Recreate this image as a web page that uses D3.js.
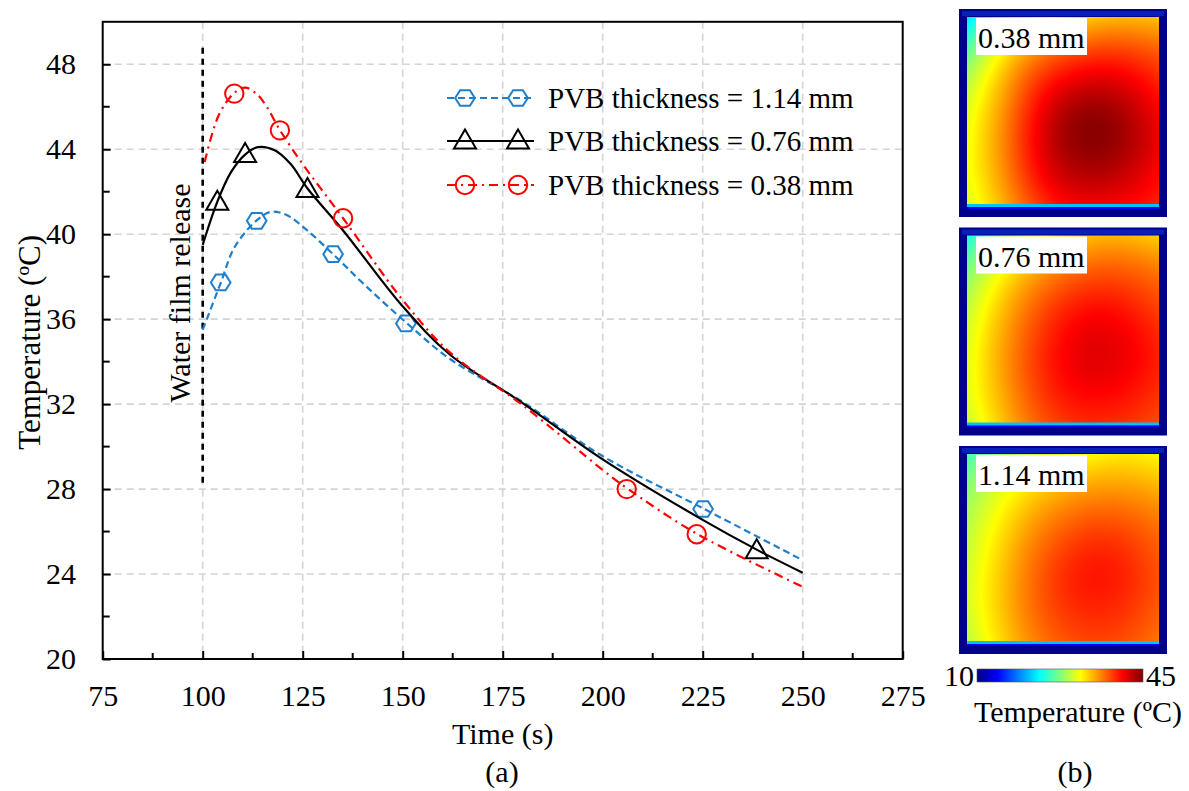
<!DOCTYPE html>
<html><head><meta charset="utf-8">
<script src="https://cdn.jsdelivr.net/npm/d3@7"></script>
<style>body{margin:0;background:#fff}svg{display:block}text{font-family:"Liberation Serif","Times New Roman",serif;fill:#000}</style>
</head><body>
<svg id="c" width="1189" height="791"></svg>
<script>
// ---------- data ----------
const xTicks = [75,100,125,150,175,200,225,250,275];
const yTicks = [20,24,28,32,36,40,44,48];
const seriesNames = ["PVB thickness = 1.14 mm","PVB thickness = 0.76 mm","PVB thickness = 0.38 mm"];
// curve samples [time, temperature]
const curve114 = [[100,35.5],[104.5,37.7],[108,39.4],[113.5,40.65],[117,41.05],[121,40.9],[126,40.2],[132.6,39.06],[140,37.7],[150.8,35.85],[162,34.1],[180,32.1],[200,29.55],[225,27.1],[250,24.65]];
const curve076 = [[100,39.5],[103.6,41.5],[107,42.9],[110.6,43.75],[113.8,44.1],[118,43.95],[122,43.3],[126.2,42.15],[135,40.2],[150,36.6],[162,34.3],[180,32.05],[200,29.4],[225,26.55],[238.5,25.15],[250,24.06]];
const curve038 = [[100.5,43.4],[104,45.6],[107.9,46.65],[110.6,46.9],[113.5,46.6],[116,46.0],[119.3,44.9],[125,43.3],[135.1,40.75],[150,36.9],[162,34.4],[180,31.95],[200,28.9],[206,28.05],[223.5,25.9],[250,23.4]];
// marker positions [time, temperature]
const marks114 = [[104.5,37.73],[113.5,40.63],[132.6,39.06],[150.8,35.8],[225.1,27.06]];
const marks076 = [[103.65,41.5],[110.6,43.75],[126.2,42.1],[238.5,25.1]];
const marks038 = [[107.9,46.62],[119.3,44.89],[135.1,40.75],[206,28.0],[223.5,25.87]];
const releaseTime = 100, releaseRange = [28.3, 48.9];
// heat maps (b): temperature (ºC) read on a coarse 7x7 grid (edges included), rows top->bottom
const panelLabels = ["0.38 mm","0.76 mm","1.14 mm"];
const heat038 = [
  [22,27,30.5,32.5,34,34.5,34],
  [26.5,32,35.5,37.5,38.5,38.5,37.5],
  [29.5,34,38.5,41,42,41.5,39.5],
  [31,35,40,43.8,45,43.5,41],
  [31.5,35.5,40.5,44.2,45.2,44,41.5],
  [31.5,35,39.8,42.8,43.5,42.5,40.5],
  [30.5,34,38,40.5,41,40.5,39.5]];
const heat076 = [
  [24,28.5,31,33,34.5,34.5,33.5],
  [27.5,31.5,34.5,36.5,37.5,37.5,36.5],
  [29.5,33.5,36.8,39,40,39.5,38],
  [30.5,34.5,38,40.5,41.8,41,39.3],
  [31,35,38.5,41,42,41.3,39.8],
  [31,34.5,38,40.3,40.8,40.3,39],
  [30,33.5,37,38.8,39.3,39,38]];
const heat114 = [
  [25.5,28.5,30,31.2,32.2,32.8,32],
  [28,30.8,33,34.5,35.2,35.3,34.5],
  [29.2,32.2,35,36.8,37.8,37.5,36.5],
  [30,33.2,36.5,38.6,39.8,39.2,37.5],
  [30.5,33.7,37,39.5,40.4,39.7,38],
  [30.5,33.7,37,38.9,39.5,39,37.5],
  [29.5,33,36,37.8,38.4,38,36.5]];
const heatMaps = [heat038, heat076, heat114];
const cbarTicks = [10,45];

// ---------- setup ----------
const svg = d3.select("#c");
const L=102.7, R=902.7, T=21.8, B=659;
const x = d3.scaleLinear().domain([75,275]).range([L,R]);
const y = d3.scaleLinear().domain([20,50]).range([B,T]);
const FS = 30;

// grid
const grid = svg.append("g").attr("stroke","#d4d4d4").attr("stroke-width",1.6).attr("stroke-dasharray","7,5");
grid.selectAll("line.v").data(xTicks.filter(d=>d>75&&d<275)).join("line")
  .attr("x1",d=>x(d)).attr("x2",d=>x(d)).attr("y1",T).attr("y2",B);
grid.selectAll("line.h").data(yTicks.filter(d=>d>20)).join("line")
  .attr("y1",d=>y(d)).attr("y2",d=>y(d)).attr("x1",L).attr("x2",R);

// frame
svg.append("rect").attr("x",L).attr("y",T).attr("width",R-L).attr("height",B-T)
  .attr("fill","none").attr("stroke","#000").attr("stroke-width",2);

// axes
const xMinor = d3.range(87.5,275,25);
const yMinor = d3.range(22,50,4);
const gx = svg.append("g").attr("transform",`translate(0,${B})`)
  .call(d3.axisBottom(x).tickValues(xTicks).tickSizeInner(-8).tickSizeOuter(0).tickPadding(25.7));
gx.selectAll(".tick line").attr("stroke-width",2);
gx.selectAll("text").attr("font-size",FS).attr("font-family","Liberation Serif");
svg.append("g").selectAll("line").data(xMinor).join("line")
  .attr("x1",d=>x(d)).attr("x2",d=>x(d)).attr("y1",B).attr("y2",B-6).attr("stroke","#000").attr("stroke-width",2);
const gy = svg.append("g").attr("transform",`translate(${L},0)`)
  .call(d3.axisLeft(y).tickValues(yTicks).tickSizeInner(-8).tickSizeOuter(0).tickPadding(26.7));
gy.selectAll(".tick line").attr("stroke-width",2);
gy.selectAll("text").attr("font-size",FS).attr("font-family","Liberation Serif");
svg.append("g").selectAll("line").data(yMinor).join("line")
  .attr("y1",d=>y(d)).attr("y2",d=>y(d)).attr("x1",L).attr("x2",L+7).attr("stroke","#000").attr("stroke-width",2);
svg.selectAll(".domain").attr("stroke","none");

// titles
svg.append("text").attr("x",(L+R)/2).attr("y",744).attr("text-anchor","middle").attr("font-size",FS).text("Time (s)");
svg.append("text").attr("transform",`translate(40,${(T+B)/2+2}) rotate(-90)`).attr("text-anchor","middle").attr("font-size",FS+1).text("Temperature (ºC)");
svg.append("text").attr("x",502).attr("y",782).attr("text-anchor","middle").attr("font-size",FS).text("(a)");
svg.append("text").attr("x",1075).attr("y",782).attr("text-anchor","middle").attr("font-size",FS).text("(b)");

// release line
svg.append("line").attr("x1",x(releaseTime)).attr("x2",x(releaseTime))
  .attr("y1",y(releaseRange[0])).attr("y2",y(releaseRange[1]))
  .attr("stroke","#000").attr("stroke-width",2.6).attr("stroke-dasharray","6,5");
svg.append("text").attr("transform",`translate(190,293) rotate(-90)`).attr("text-anchor","middle").attr("font-size",FS).text("Water film release");

// series
const styles = [
  {c:"#1f7fcc", dash:"7,4", data:curve114, marks:marks114, shape:"hex"},
  {c:"#000", dash:null, data:curve076, marks:marks076, shape:"tri"},
  {c:"#ff0000", dash:"9,5,2,5", data:curve038, marks:marks038, shape:"circ"}
];
const line = d3.line().x(d=>x(d[0])).y(d=>y(d[1])).curve(d3.curveCatmullRom.alpha(0.5));
function markPath(shape){
  if(shape==="hex"){ const r=9.8; return d3.range(6).map(i=>{const a=Math.PI/3*i; return [r*Math.cos(a), r*Math.sin(a)*0.92];}); }
  if(shape==="tri"){ return [[0,-11.5],[11,7.5],[-11,7.5]]; }
  return null;
}
function drawMarker(g, shape, cx, cy, color){
  if(shape==="circ"){
    g.append("circle").attr("cx",cx).attr("cy",cy).attr("r",9.2).attr("fill","none").attr("stroke",color).attr("stroke-width",2);
  } else {
    const pts = markPath(shape).map(p=>[cx+p[0],cy+p[1]]);
    g.append("path").attr("d","M"+pts.join("L")+"Z").attr("fill","none").attr("stroke",color).attr("stroke-width",2);
  }
}
styles.forEach(s=>{
  svg.append("path").attr("d",line(s.data)).attr("fill","none").attr("stroke",s.c).attr("stroke-width",2.2)
    .attr("stroke-dasharray",s.dash);
  const g = svg.append("g");
  s.marks.forEach(m=>drawMarker(g,s.shape,x(m[0]),y(m[1]),s.c));
});

// legend
const legY = [98,141,185];
styles.forEach((s,i)=>{
  const g = svg.append("g");
  g.append("line").attr("x1",447).attr("x2",534).attr("y1",legY[i]).attr("y2",legY[i])
    .attr("stroke",s.c).attr("stroke-width",2.2).attr("stroke-dasharray",s.dash);
  drawMarker(g,s.shape,465,legY[i],s.c);
  drawMarker(g,s.shape,518,legY[i],s.c);
  g.append("text").attr("x",548).attr("y",legY[i]+10).attr("font-size",FS-1).text(seriesNames[i]);
});

// ---------- heat maps ----------
const jet = d3.scaleLinear()
  .domain([0,0.125,0.375,0.625,0.875,1].map(f=>10+f*35))
  .range(["#00007f","#0000ff","#00ffff","#ffff00","#ff0000","#7f0000"]).clamp(true);
const defs = svg.append("defs");
const sqX = 959, sqW = 208, sqH = 208;
const sqY = d3.scaleLinear().domain([0,2]).range([9,446]);
const inX0 = 8, inY0 = 8, inW = sqW-16, inH = sqH-18;
function heatImage(mat){
  const cv = document.createElement("canvas");
  cv.width = inW; cv.height = inH;
  const ctx = cv.getContext("2d");
  const img = ctx.createImageData(inW, inH);
  const rowInterp = mat.map(r=>d3.interpolateBasis(r));
  for(let px=0; px<inW; px++){
    const u = px/(inW-1);
    const colInterp = d3.interpolateBasis(rowInterp.map(f=>f(u)));
    for(let py=0; py<inH; py++){
      const c = d3.rgb(jet(colInterp(py/(inH-1))));
      const k = 4*(py*inW+px);
      img.data[k]=c.r; img.data[k+1]=c.g; img.data[k+2]=c.b; img.data[k+3]=255;
    }
  }
  ctx.putImageData(img,0,0);
  return cv.toDataURL();
}
panelLabels.forEach((lab,i)=>{
  const y0 = sqY(i);
  const g = svg.append("g");
  g.append("rect").attr("x",sqX).attr("y",y0).attr("width",sqW).attr("height",sqH).attr("fill","#00008c");
  g.append("rect").attr("x",sqX+3).attr("y",y0+2).attr("width",sqW-6).attr("height",5).attr("fill","#0a2cd0").attr("opacity",0.7);
  g.append("image").attr("x",sqX+inX0).attr("y",y0+inY0).attr("width",inW).attr("height",inH)
    .attr("preserveAspectRatio","none").attr("href",heatImage(heatMaps[i]));
  g.append("rect").attr("x",sqX+inX0).attr("y",y0+sqH-13).attr("width",inW).attr("height",3).attr("fill",jet(21));
  g.append("rect").attr("x",sqX+inX0).attr("y",y0+sqH-10).attr("width",inW).attr("height",2).attr("fill",jet(14));
  g.append("rect").attr("x",sqX+17).attr("y",y0+9).attr("width",111).attr("height",37).attr("fill","#fff");
  g.append("text").attr("x",sqX+19).attr("y",y0+39).attr("font-size",FS).text(lab);
});
// colorbar
const cbX = d3.scaleLinear().domain([10,45]).range([977,1143]);
const lg = defs.append("linearGradient").attr("id","cbar");
d3.range(0,1.0001,0.125).forEach(f=>lg.append("stop").attr("offset",f).attr("stop-color",jet(10+35*f)));
svg.append("rect").attr("x",cbX(10)).attr("y",669).attr("width",cbX(45)-cbX(10)).attr("height",13)
  .attr("fill","url(#cbar)").attr("stroke","#555").attr("stroke-width",0.6);
svg.append("text").attr("x",cbX(cbarTicks[0])-3).attr("y",686).attr("text-anchor","end").attr("font-size",FS).text(cbarTicks[0]);
svg.append("text").attr("x",cbX(cbarTicks[1])+3).attr("y",686).attr("text-anchor","start").attr("font-size",FS).text(cbarTicks[1]);
svg.append("text").attr("x",1078).attr("y",722).attr("text-anchor","middle").attr("font-size",FS).text("Temperature (ºC)");
</script>
</body></html>
